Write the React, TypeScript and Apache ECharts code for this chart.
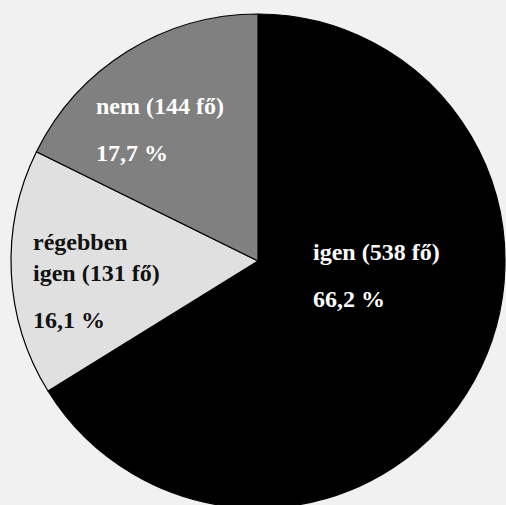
import React, { useEffect, useRef } from "react";
import * as echarts from "echarts";

const categories: string[] = ["igen", "régebben igen", "nem"];
const counts: number[] = [538, 131, 144];
const percentLabels: string[] = ["66,2 %", "16,1 %", "17,7 %"];
const nameLabels: string[] = ["igen (538 fő)", "régebben\nigen (131 fő)", "nem (144 fő)"];
const sliceColors: string[] = ["#000000", "#e0e0e0", "#808080"];
const textColors: string[] = ["#ffffff", "#111111", "#ffffff"];

const labelAnchors: [number, number][] = [
  [313, 236],
  [33, 226],
  [96, 90],
];

export default function App() {
  const ref = useRef<HTMLDivElement>(null);
  useEffect(() => {
    if (!ref.current) return;
    const chart = echarts.init(ref.current, undefined, { renderer: "svg" });
    const font = "'Liberation Serif', 'DejaVu Serif', serif";
    chart.setOption({
      animation: false,
      backgroundColor: "#f1f1f1",
      series: [
        {
          type: "pie",
          center: [258, 261],
          radius: [0, 247],
          startAngle: 90,
          clockwise: true,
          avoidLabelOverlap: false,
          itemStyle: { borderColor: "#000", borderWidth: 1.2 },
          emphasis: { disabled: true },
          labelLine: { show: false },
          data: categories.map((c, i) => ({
            name: c,
            value: counts[i],
            itemStyle: { color: sliceColors[i] },
            label: {
              show: true,
              position: "inside",
              formatter: () => {
                const lines = nameLabels[i].split("\n").map((l) => `{n|${l}}`).join("\n");
                return `${lines}\n{p|${percentLabels[i]}}`;
              },
              rich: {
                n: {
                  fontFamily: font,
                  fontSize: 24,
                  fontWeight: "bold",
                  color: textColors[i],
                  lineHeight: 31,
                },
                p: {
                  fontFamily: font,
                  fontSize: 24,
                  fontWeight: "bold",
                  color: textColors[i],
                  lineHeight: 64,
                },
              },
            },
          })),
          labelLayout: (params: any) => {
            const a = labelAnchors[params.dataIndex];
            return { x: a[0], y: a[1], align: "left", verticalAlign: "top" };
          },
        },
      ],
    });
    return () => chart.dispose();
  }, []);
  return (
    <div
      ref={ref}
      style={{ position: "fixed", left: 0, top: 0, width: 506, height: 505 }}
    />
  );
}
